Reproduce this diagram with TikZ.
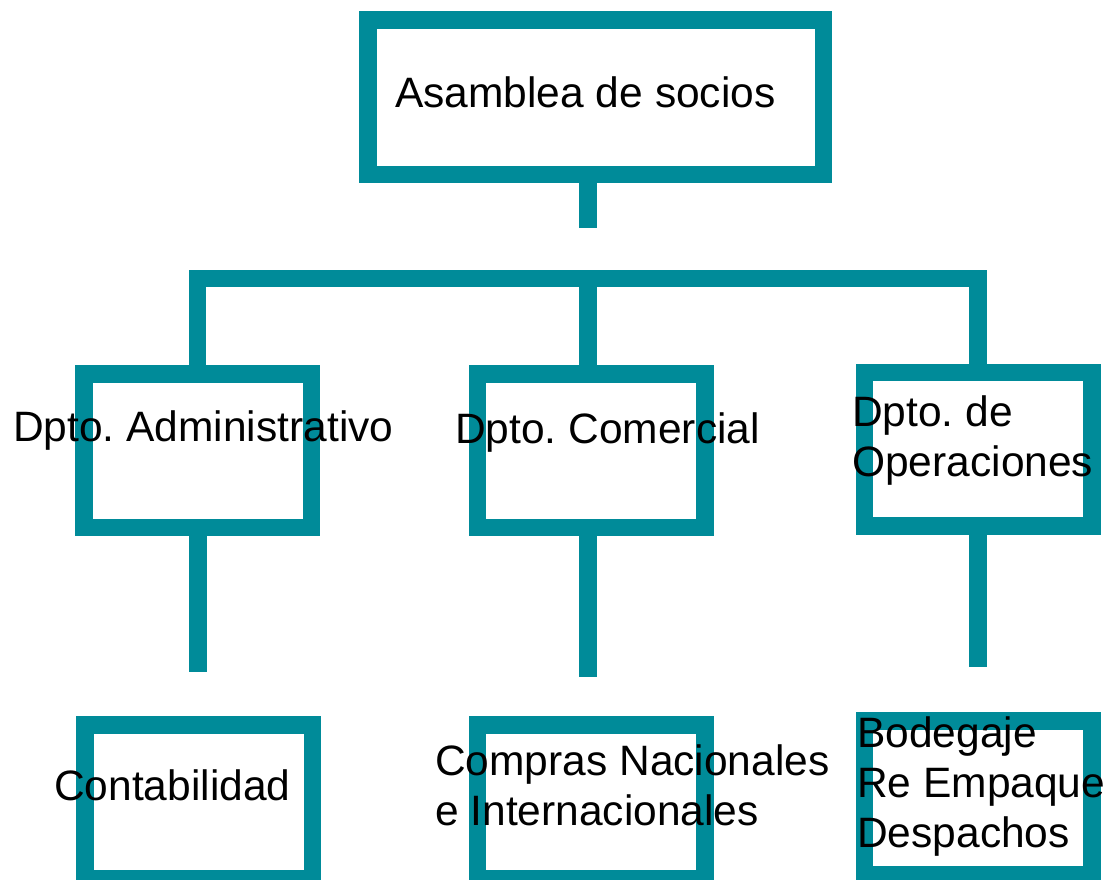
\documentclass[tikz,border=0pt]{standalone}
\usepackage{fontspec}
\setmainfont{Liberation Sans}
\frenchspacing
\definecolor{orgteal}{RGB}{0,139,153}
\begin{document}
\begin{tikzpicture}[x=1pt,y=-1pt,
    orgbox/.style={draw=orgteal, line width=17.5pt, minimum width=227.5pt, minimum height=153.5pt, inner sep=0pt},
    link/.style={draw=orgteal, line width=17.5pt},
    orgtext/.style={inner sep=0pt, anchor=base west, align=left, font=\fontsize{42.5}{50}\selectfont}]
    \useasboundingbox (0,0) rectangle (1109,879);
    % boxes
    \node [orgbox, minimum width=455.5pt, minimum height=154.5pt] (asamblea) at (595.5,97) {};
    \node [orgbox] (admin) at (197.5,450.5) {};
    \node [orgbox] (comercial) at (591,450.5) {};
    \node [orgbox] (operaciones) at (978,449) {};
    \node [orgbox] (contab) at (198.5,801.5) {};
    \node [orgbox] (compras) at (591,801.5) {};
    \node [orgbox] (bodega) at (978,797.5) {};
    % lines
    \coordinate (stub) at (588,228);
    \coordinate (bar) at (588,278.5);
    \coordinate (endadmin) at (198,672);
    \coordinate (endcomercial) at (588,677);
    \coordinate (endoperaciones) at (978,667);
    \draw [link] (stub |- asamblea.south) -- (stub);
    \draw [link] (admin.north) -- (admin.north |- bar) -- (operaciones.north |- bar) -- (operaciones.north);
    \draw [link] (bar) -- (bar |- comercial.north);
    \draw [link] (admin.south -| endadmin) -- (endadmin);
    \draw [link] (comercial.south -| endcomercial) -- (endcomercial);
    \draw [link] (operaciones.south) -- (endoperaciones);
    % texts (base = last line)
    \node [orgtext] (tasamblea) at (395,107) {Asamblea de socios};
    \node [orgtext] (tadmin) at (13,441) {Dpto. Administrativo};
    \node [orgtext] (tcomercial) at (455,443) {Dpto. Comercial};
    \node [orgtext] (toperaciones) at (852,476) {Dpto. de\\Operaciones};
    \node [orgtext] (tcontab) at (54,800) {Contabilidad};
    \node [orgtext] (tcompras) at (435,825) {Compras Nacionales\\e Internacionales};
    \node [orgtext] (tbodega) at (857,847) {Bodegaje\\Re Empaque\\Despachos};
\end{tikzpicture}
\end{document}
